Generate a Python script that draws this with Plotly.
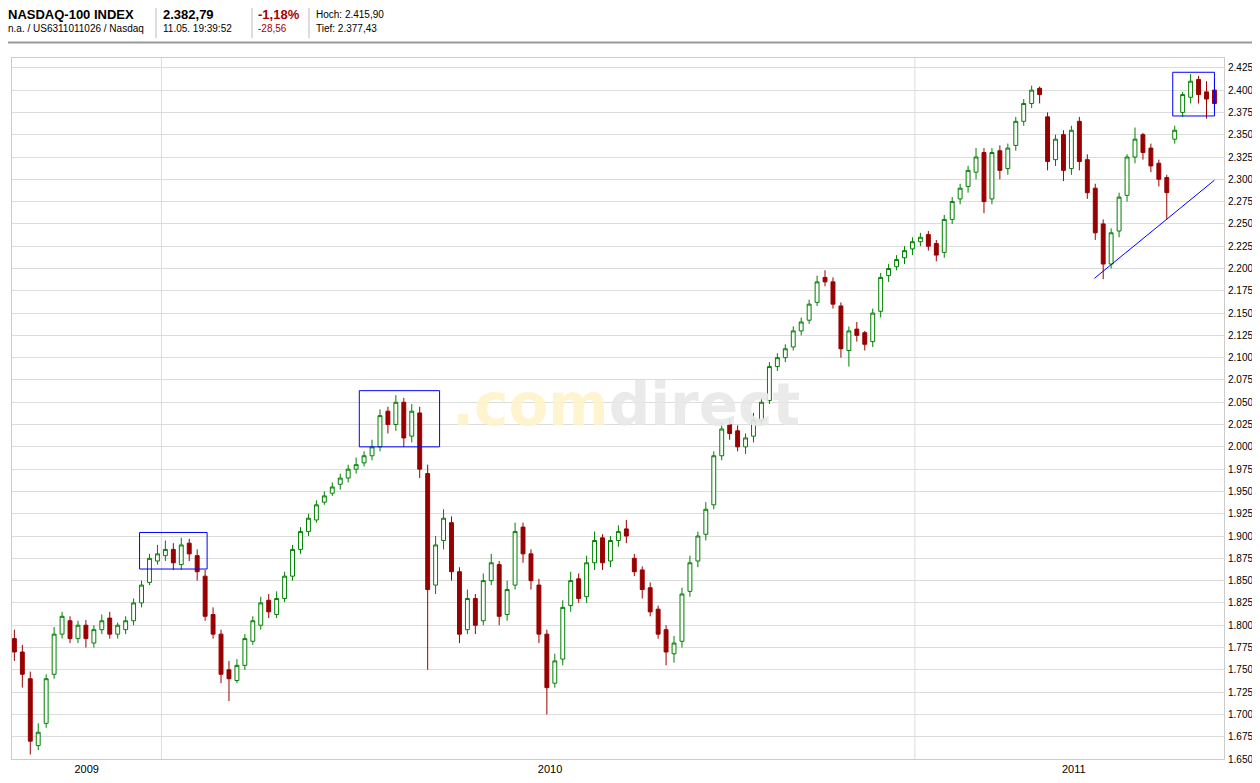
import plotly.graph_objects as go

# candles, one every few trading days, Nov 2008 .. May 2011
opens = [1785,1770,1740,1665,1690,1745,1790,1805,1785,1800,1780,1795,1808,1790,1795,1805,1825,1848,1872,1878,
         1885,1868,1892,1878,1855,1812,1790,1750,1738,1755,1782,1800,1828,1812,1830,1855,1885,1905,1918,1938,
         1948,1958,1965,1975,1982,1990,2000,2040,2025,2050,2012,2038,1970,1845,1895,1915,1860,1795,1830,1805,
         1850,1868,1812,1845,1910,1880,1845,1790,1735,1762,1822,1852,1832,1870,1898,1872,1895,1908,1875,1862,
         1842,1818,1795,1768,1782,1838,1872,1902,1935,1990,2025,2018,2000,2012,2030,2052,2090,2100,2112,2130,
         2142,2162,2190,2185,2158,2108,2132,2128,2118,2152,2192,2202,2212,2222,2230,2238,2228,2218,2255,2278,
         2292,2308,2330,2278,2332,2312,2338,2365,2385,2402,2370,2322,2350,2312,2365,2322,2290,2250,2205,2242,
         2282,2325,2350,2335,2318,2302,2345,2375,2392,2412,2398,2400]
highs = [1795,1778,1748,1690,1745,1798,1815,1810,1805,1806,1800,1812,1815,1803,1810,1830,1850,1880,1890,1895,
         1892,1898,1897,1885,1862,1820,1795,1760,1762,1790,1810,1832,1835,1838,1860,1890,1910,1925,1940,1950,
         1960,1970,1980,1988,1995,2008,2042,2045,2058,2055,2048,2045,1980,1900,1930,1922,1865,1840,1835,1858,
         1880,1872,1850,1915,1915,1885,1852,1795,1768,1828,1860,1858,1878,1905,1902,1900,1912,1918,1880,1866,
         1848,1822,1800,1788,1842,1878,1905,1938,1995,2028,2032,2024,2015,2038,2055,2095,2105,2115,2135,2145,
         2165,2192,2198,2190,2162,2135,2140,2130,2155,2195,2205,2215,2225,2235,2240,2242,2232,2260,2280,2295,
         2315,2335,2335,2335,2338,2340,2370,2390,2405,2404,2375,2350,2355,2360,2370,2328,2295,2255,2245,2285,
         2328,2358,2352,2340,2322,2305,2360,2398,2418,2416,2410,2412]
lows = [1760,1730,1655,1660,1685,1740,1785,1780,1780,1775,1775,1790,1785,1785,1790,1800,1820,1845,1868,1872,
        1862,1862,1872,1850,1805,1785,1735,1715,1735,1750,1778,1795,1808,1808,1826,1850,1880,1900,1915,1935,
        1945,1952,1960,1970,1978,1985,1995,2015,2018,2000,2005,1965,1750,1835,1885,1850,1780,1790,1790,1800,
        1845,1800,1805,1840,1870,1840,1780,1700,1730,1755,1815,1825,1825,1862,1862,1865,1888,1892,1855,1830,
        1810,1785,1755,1758,1775,1832,1865,1895,1930,1985,2008,1995,1992,2005,2025,2048,2085,2095,2108,2125,
        2138,2158,2180,2155,2100,2090,2118,2108,2112,2145,2185,2198,2205,2215,2225,2220,2208,2212,2250,2272,
        2285,2300,2262,2272,2300,2305,2332,2360,2380,2385,2310,2315,2298,2305,2310,2278,2232,2188,2200,2235,
        2275,2318,2322,2308,2292,2255,2340,2370,2385,2385,2368,2378]
closes = [1770,1745,1670,1680,1740,1790,1810,1785,1800,1785,1795,1805,1790,1800,1805,1825,1845,1875,1880,1885,
          1870,1890,1880,1860,1810,1790,1745,1740,1755,1785,1805,1825,1815,1830,1855,1885,1905,1920,1935,1945,
          1955,1965,1975,1980,1990,2000,2035,2025,2050,2010,2040,1975,1840,1890,1920,1860,1790,1830,1800,1850,
          1870,1810,1840,1905,1880,1850,1790,1730,1760,1820,1850,1830,1870,1895,1870,1895,1905,1900,1860,1840,
          1815,1790,1770,1780,1835,1870,1900,1930,1990,2020,2015,2000,2010,2030,2050,2090,2100,2110,2130,2140,
          2160,2185,2185,2160,2110,2130,2125,2115,2150,2190,2200,2210,2220,2230,2235,2225,2215,2255,2275,2290,
          2310,2325,2275,2330,2310,2335,2365,2385,2400,2395,2320,2345,2310,2355,2320,2285,2240,2205,2240,2280,
          2325,2345,2330,2315,2300,2285,2355,2395,2410,2395,2390,2385]

year_labels = ["2009", "2010", "2011"]
year_pos = [9.1, 67.4, 133.3]

fig = go.Figure(go.Candlestick(
    x=list(range(len(closes))), open=opens, high=highs, low=lows, close=closes,
    increasing=dict(line=dict(color="#008000", width=1), fillcolor="white"),
    decreasing=dict(line=dict(color="#990000", width=1), fillcolor="#990000"),
    whiskerwidth=0, hoverinfo="skip"))

PW = 1212  # plot width in px
grid = "#dcdcdc"
shapes = []
for gx in [18.5, 113.3]:
    shapes.append(dict(type="line", xref="x", yref="paper", x0=gx, x1=gx, y0=0, y1=1,
                       line=dict(color=grid, width=1), layer="below"))
# highlight boxes and trend line
for x0, x1, y0, y1 in [(15.75, 24.25, 1863, 1904), (43.4, 53.5, 2000, 2063), (145.75, 151.0, 2371, 2420)]:
    shapes.append(dict(type="rect", x0=x0, x1=x1, y0=y0, y1=y1, line=dict(color="#0000ff", width=1)))
shapes.append(dict(type="line", x0=135.9, x1=151.0, y0=2189, y1=2299, line=dict(color="#0000ff", width=1)))
# header
shapes.append(dict(type="line", xref="paper", yref="paper", x0=-0.02, x1=1.04, y0=1.022, y1=1.022,
                   line=dict(color="#999999", width=2)))
for px in [156, 252, 309]:
    xp = (px - 12) / PW
    shapes.append(dict(type="line", xref="paper", yref="paper", x0=xp, x1=xp, y0=1.028, y1=1.083,
                       line=dict(color="#bbbbbb", width=1)))

def hdr(px, py, text, size=10, color="black", bold=False):
    return dict(xref="paper", yref="paper", x=(px - 12) / PW, y=1 + (58 - py) / 701,
                text=f"<b>{text}</b>" if bold else text, showarrow=False, xanchor="left",
                yanchor="middle", font=dict(size=size, color=color, family="Arial"))

annotations = [
    hdr(6, 15, "NASDAQ-100 INDEX", 13, bold=True),
    hdr(6, 29, "n.a. / US6311011026 / Nasdaq", 10),
    hdr(161, 15, "2.382,79", 13, bold=True),
    hdr(161, 29, "11.05. 19:39:52", 10),
    hdr(256, 15, "-1,18%", 13, "#aa0000", bold=True),
    hdr(256, 29, "-28,56", 10, "#aa0000"),
    hdr(314, 15, "Hoch: 2.415,90", 10),
    hdr(314, 29, "Tief: 2.377,43", 10),
    dict(xref="paper", yref="paper", x=0.507, y=0.505, showarrow=False,
         text="<b><span style='color:#fff3cc'>.com</span><span style='color:#e8e8e8'>direct</span></b>",
         font=dict(size=58, family="DejaVu Sans"), opacity=0.9),
]

# page body has an 8px margin, so the figure is sized to the visible area
fig.update_layout(
    width=1252, height=767, margin=dict(l=4, r=36, t=50, b=16, autoexpand=False),
    paper_bgcolor="white", plot_bgcolor="white", separators=",.",
    showlegend=False, shapes=shapes, annotations=annotations,
    xaxis=dict(range=[-0.3, 152.2], rangeslider=dict(visible=False), showgrid=False,
               tickvals=year_pos, ticktext=year_labels, ticks="", zeroline=False,
               showline=True, linecolor="#cccccc", mirror=True, automargin=False,
               tickfont=dict(size=11, family="Arial", color="black")),
    yaxis=dict(range=[1650, 2436], side="right", dtick=25, tick0=1650, tickformat=",.0f",
               gridcolor=grid, showline=True, linecolor="#cccccc", mirror=True, automargin=False,
               ticks="", ticklabelstandoff=1,
               tickfont=dict(size=10, family="Liberation Sans", color="black")),
)
fig.write_html("out.html")
